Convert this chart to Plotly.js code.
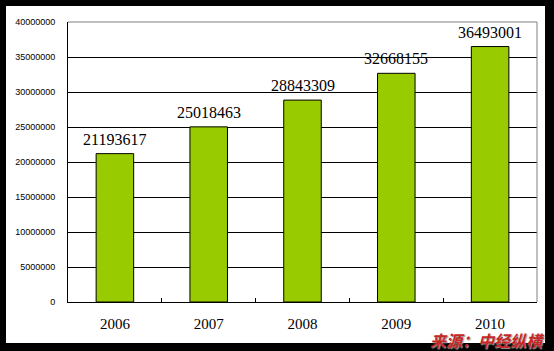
<!DOCTYPE html>
<html>
<head>
<meta charset="utf-8">
<script src="https://cdn.plot.ly/plotly-3.0.1.min.js"></script>
<style>html,body{margin:0;padding:0;background:#000;}#chart{width:554px;height:351px;}</style>
</head>
<body>
<div id="chart"></div>
<script>
const years = ['2006', '2007', '2008', '2009', '2010'];
const values = [21193617, 25018463, 28843309, 32668155, 36493001];
const valueLabels = ['21193617', '25018463', '28843309', '32668155', '36493001'];
const yTicks = [0, 5000000, 10000000, 15000000, 20000000, 25000000, 30000000, 35000000, 40000000];
const yTickLabels = ['0', '5000000', '10000000', '15000000', '20000000', '25000000', '30000000', '35000000', '40000000'];
const sourceText = '来源：中经纵横';

const trace = {
  type: 'bar',
  x: years,
  y: values,
  marker: {color: '#99CC00', line: {color: '#000', width: 1}},
  width: 0.4,
  hoverinfo: 'none'
};

const valueAnnotations = years.map((yr, i) => ({
  x: i, y: values[i], xref: 'x', yref: 'y',
  text: valueLabels[i], showarrow: false,
  xanchor: 'center', yanchor: 'bottom', yshift: 4,
  font: {family: '"Liberation Serif", serif', size: 16, color: '#000'}
}));

const layout = {
  width: 554, height: 351,
  margin: {l: 68, r: 17, t: 22, b: 49},
  paper_bgcolor: '#000',
  plot_bgcolor: '#fff',
  showlegend: false,
  xaxis: {
    type: 'category',
    categoryorder: 'array', categoryarray: years,
    range: [-0.5, years.length - 0.5],
    showgrid: false,
    showline: true, linecolor: '#000', linewidth: 1,
    ticks: 'inside', tickson: 'boundaries', ticklen: 4, tickcolor: '#000',
    tickfont: {family: '"Liberation Serif", serif', size: 15, color: '#000'},
    ticklabelstandoff: 8,
    fixedrange: true
  },
  yaxis: {
    range: [0, 40000000],
    tickvals: yTicks, ticktext: yTickLabels,
    showgrid: true, gridcolor: '#000', gridwidth: 1,
    showline: true, linecolor: '#000', linewidth: 1,
    zeroline: false,
    ticks: '',
    tickfont: {family: '"Liberation Sans", Arial, sans-serif', size: 9, color: '#000'},
    ticklabelstandoff: 10,
    fixedrange: true
  },
  shapes: [
    {type: 'rect', xref: 'paper', yref: 'paper', x0: -0.1322, x1: 1.0171, y0: -0.1464, y1: 1.0571,
     fillcolor: '#fff', line: {width: 0}, layer: 'below'},
    {type: 'path', xref: 'paper', yref: 'paper', path: 'M 0 1 L 1 1 L 1 0',
     line: {color: '#808080', width: 1}, layer: 'above'}
  ],
  annotations: valueAnnotations.concat([
    {text: sourceText, xref: 'paper', yref: 'paper', x: 0.8955, y: -0.137, xanchor: 'center', yanchor: 'middle',
     showarrow: false,
     font: {family: '"Noto Sans CJK SC", sans-serif', size: 16, color: '#c62828', weight: 'bold', style: 'italic',
            shadow: '1px 1px 1px #999'}}
  ])
};

Plotly.newPlot('chart', [trace], layout, {staticPlot: true, displayModeBar: false});
</script>
</body>
</html>
